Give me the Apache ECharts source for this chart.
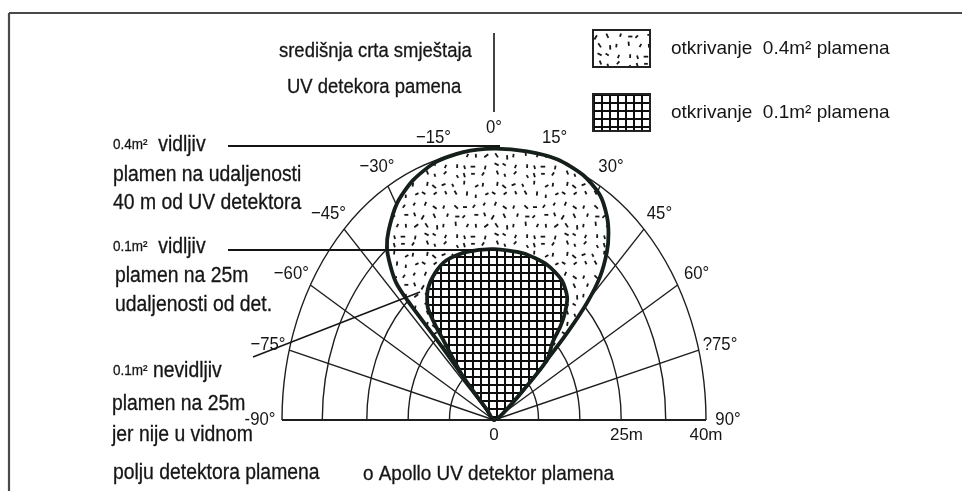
<!DOCTYPE html>
<html><head><meta charset="utf-8">
<script src="https://cdn.jsdelivr.net/npm/echarts@6/dist/echarts.min.js"></script>
<style>html,body{margin:0;padding:0;background:#fff}#c{width:962px;height:491px}</style>
</head><body><div id="c"></div>
<script>
// ---- data ----
const ringRadii = [8.4, 16.2, 24, 32.4, 40];
const angleTicks = [-90, -75, -60, -45, -30, -15, 0, 15, 30, 45, 60, 75, 90];
const angleLabels = ['-90°', '−75°', '−60°', '−45°', '−30°', '−15°', '0°', '15°', '30°', '45°', '60°', '?75°', '90°'];
const distanceTicks = [0, 25, 40];
const distanceLabels = ['0', '25m', '40m'];
// 0.4 m² flame detection lobe (metres: x across, y forward)
const lobe04X = [0, 1.7, 5.5, 10.0, 13.8, 17.5, 20.0, 21.3, 21.6, 21.3, 20.0, 16.8, 12.0, 6.2, 0, -5.8, -11.0, -15.3, -18.3, -19.9, -20.2, -19.6, -18.5, -16.4, -10.8, -5.8, -1.3];
const lobe04Y = [0, 1.0, 4.4, 8.9, 12.9, 17.3, 21.2, 24.9, 27.6, 30.2, 33.3, 36.3, 38.6, 39.8, 40.2, 39.7, 38.2, 35.5, 32.1, 28.0, 25.5, 23.0, 20.4, 17.8, 11.9, 6.4, 1.5];
// 0.1 m² flame detection lobe
const lobe01X = [0, 1.7, 5.5, 10.0, 11.1, 12.5, 13.4, 13.8, 12.8, 10.0, 5.5, 0, -5.1, -8.9, -11.1, -12.5, -12.5, -11.1, -9.6, -5.8, -1.3];
const lobe01Y = [0, 1.0, 4.4, 8.9, 11.6, 13.8, 15.9, 18.2, 20.7, 23.0, 24.7, 25.3, 24.9, 23.7, 21.8, 19.3, 16.7, 14.1, 11.9, 6.4, 1.5];
const legendNames = ['otkrivanje  0.4m² plamena', 'otkrivanje  0.1m² plamena'];

// ---- styling ----
const FONT = '"Liberation Sans", Arial, sans-serif';
const INK = '#151515';
const LOBE_INK = '#15201a';

function dashPattern() {
  const n = 7, cell = 10, size = n * cell;
  const c = document.createElement('canvas'); c.width = c.height = size;
  const g = c.getContext('2d');
  g.fillStyle = '#fff'; g.fillRect(0, 0, size, size);
  g.strokeStyle = '#181818'; g.lineWidth = 1.8;
  let s = 4242;
  const rnd = () => { s = (s * 16807) % 2147483647; return s / 2147483647; };
  for (let i = 0; i < n; i++) for (let j = 0; j < n; j++) {
    const cx = i * cell + 2.5 + rnd() * 5, cy = j * cell + 2.5 + rnd() * 5;
    let ang = (rnd() - 0.5) * 2.4;
    if (rnd() < 0.15) ang = Math.PI / 2;
    const len = 3.2 + rnd() * 1.8;
    const dx = Math.sin(ang) * len / 2, dy = Math.cos(ang) * len / 2;
    g.beginPath(); g.moveTo(cx - dx, cy - dy); g.lineTo(cx + dx, cy + dy); g.stroke();
  }
  return { image: c, repeat: 'repeat' };
}
function gridPattern() {
  const c = document.createElement('canvas'); c.width = 8; c.height = 8;
  const g = c.getContext('2d');
  g.fillStyle = '#fff'; g.fillRect(0, 0, 8, 8);
  g.fillStyle = '#0d0d0d'; g.fillRect(0, 0, 2, 8); g.fillRect(0, 0, 8, 2);
  return { image: c, repeat: 'repeat' };
}
const PAT04 = dashPattern();
const PAT01 = gridPattern();

const chart = echarts.init(document.getElementById('c'), null, { renderer: 'canvas' });

function lobeSeries(name, xs, ys, pattern, z) {
  return {
    type: 'custom', name: name, z: z, silent: true,
    data: xs.map((x, i) => [x, ys[i]]),
    itemStyle: { color: pattern, borderColor: '#222', borderWidth: 2 },
    renderItem: function (params, api) {
      if (params.dataIndex !== 0) return null;
      const pts = xs.map((x, i) => api.coord([x, ys[i]]));
      return { type: 'polygon', shape: { points: pts, smooth: 0.25 },
        style: { fill: pattern, stroke: LOBE_INK, lineWidth: 3.8, lineJoin: 'round' } };
    }
  };
}

const textNotes = [
  ['središnja crta smještaja', 279, 51, 20.5],
  ['UV detekora pamena', 287, 87, 20.5],
  ['{s|0.4m²}  vidljiv', 113, 145, 21.5],
  ['plamen na udaljenosti', 113, 175, 21.5],
  ['40 m od UV detektora', 113, 203, 21.5],
  ['{s|0.1m²}  vidljiv', 113, 247, 21.5],
  ['plamen na 25m', 115, 276, 21.5],
  ['udaljenosti od det.', 115, 305, 21.5],
  ['{s|0.1m²} nevidljiv', 113, 371, 21.5],
  ['plamen na 25m', 112, 404, 21.5],
  ['jer nije u vidnom', 112, 435, 21.5],
  ['polju detektora plamena', 113, 473, 21.5],
  ['o Apollo UV detektor plamena', 363, 474, 21]
];

const graphics = [
  { type: 'line', shape: { x1: 9, y1: 13, x2: 962, y2: 13 }, style: { stroke: '#4a4a4a', lineWidth: 2.2 } },
  { type: 'line', shape: { x1: 9, y1: 13, x2: 9, y2: 491 }, style: { stroke: '#4a4a4a', lineWidth: 2.2 } },
  { type: 'line', shape: { x1: 494, y1: 33, x2: 494, y2: 112 }, style: { stroke: INK, lineWidth: 1.6 } },
  { type: 'line', shape: { x1: 228, y1: 146, x2: 500, y2: 146 }, style: { stroke: INK, lineWidth: 1.8 }, z: 20 },
  { type: 'line', shape: { x1: 228, y1: 250, x2: 498, y2: 250 }, style: { stroke: INK, lineWidth: 1.8 }, z: 20 },
  { type: 'line', shape: { x1: 253, y1: 357, x2: 420, y2: 292 }, style: { stroke: INK, lineWidth: 1.4 }, z: 20 }
].concat(textNotes.map(n => ({
  type: 'text', x: n[1], y: n[2], z: 30, scaleX: 0.9,
  style: { text: n[0], fill: INK, stroke: INK, lineWidth: 0.3, font: n[3] + 'px ' + FONT,
    textVerticalAlign: 'middle', verticalAlign: 'middle',
    rich: { s: { fontSize: 15, fontFamily: FONT, fill: INK, color: INK } } }
})));

chart.setOption({
  animation: false,
  backgroundColor: '#ffffff',
  grid: { left: 282, top: 150, width: 424, height: 270 },
  xAxis: {
    type: 'value', min: -40, max: 40,
    axisLine: { show: false }, axisTick: { show: false }, splitLine: { show: false },
    axisLabel: {
      customValues: distanceTicks,
      formatter: v => distanceLabels[distanceTicks.indexOf(v)],
      fontSize: 17, fontFamily: FONT, color: INK, margin: 7
    }
  },
  yAxis: { type: 'value', min: 0, max: 40, show: false },
  legend: {
    data: legendNames, orient: 'vertical', left: 587, top: 24,
    itemWidth: 57, itemHeight: 37, itemGap: 25, icon: 'rect',
    itemStyle: { borderColor: '#222', borderWidth: 2 },
    textStyle: { fontSize: 19, fontFamily: FONT, color: INK, padding: [0, 0, 0, 16] },
    selectedMode: false
  },
  graphic: graphics,
  series: [
    {
      type: 'custom', name: 'rings', silent: true, z: 1,
      data: ringRadii.map(r => [r]),
      renderItem: function (params, api) {
        const r = api.value(0);
        const c = api.coord([0, 0]);
        const pl = api.coord([-r, 0]), pr = api.coord([r, 0]), pt = api.coord([0, r]);
        const rx = pr[0] - c[0], ry = c[1] - pt[1];
        return { type: 'path',
          shape: { pathData: 'M ' + pl[0] + ' ' + pl[1] + ' A ' + rx + ' ' + ry + ' 0 0 1 ' + pr[0] + ' ' + pr[1] },
          style: { fill: null, stroke: '#1e1e1e', lineWidth: 1.4 } };
      }
    },
    {
      type: 'custom', name: 'spokes', silent: true, z: 1,
      data: angleTicks.map(a => [a, ringRadii[ringRadii.length - 1]]),
      renderItem: function (params, api) {
        const a = api.value(0) * Math.PI / 180, R = api.value(1);
        const c = api.coord([0, 0]);
        const p = api.coord([R * Math.sin(a), R * Math.cos(a)]);
        const w = Math.abs(api.value(0)) === 90 ? 1.8 : 1.4;
        return { type: 'line', shape: { x1: c[0], y1: c[1], x2: p[0], y2: p[1] },
          style: { stroke: '#1e1e1e', lineWidth: w } };
      }
    },
    {
      type: 'custom', name: 'angleLabels', silent: true, z: 5,
      data: angleTicks.map(a => [a, ringRadii[ringRadii.length - 1]]),
      renderItem: function (params, api) {
        const a = api.value(0) * Math.PI / 180, R = api.value(1);
        const p = api.coord([R * Math.sin(a), R * Math.cos(a)]);
        return { type: 'text', x: p[0] + 22 * Math.sin(a), y: p[1] - 22 * Math.cos(a), scaleX: 0.88,
          style: { text: angleLabels[params.dataIndex], fill: INK, font: '19px ' + FONT,
            align: 'center', verticalAlign: 'middle', textAlign: 'center', textVerticalAlign: 'middle' } };
      }
    },
    lobeSeries(legendNames[0], lobe04X, lobe04Y, PAT04, 3),
    lobeSeries(legendNames[1], lobe01X, lobe01Y, PAT01, 4)
  ]
});
</script></body></html>
